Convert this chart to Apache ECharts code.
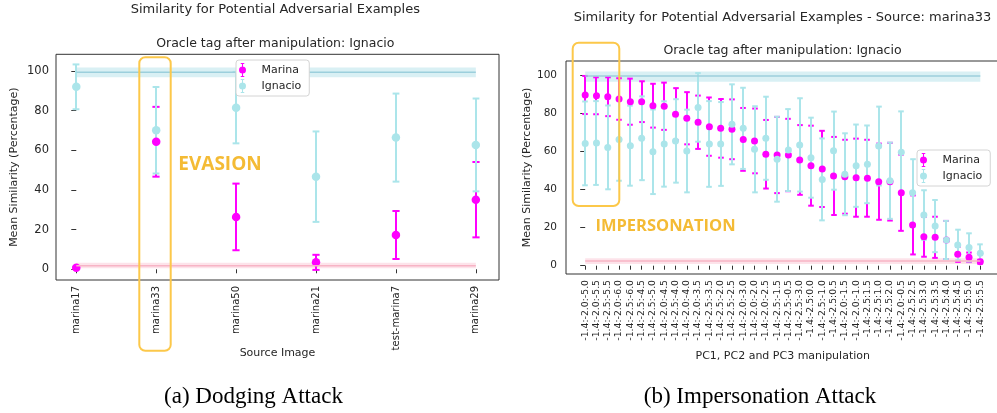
<!DOCTYPE html>
<html><head><meta charset="utf-8">
<script src="https://cdn.jsdelivr.net/npm/echarts@6/dist/echarts.min.js"></script>
<style>html,body{margin:0;padding:0;background:#fff}#chart{width:997px;height:413px}</style>
</head><body><div id="chart"></div>
<script>
// ---------- Left panel: Dodging attack ----------
const leftCategories = ['marina17', 'marina33', 'marina50', 'marina21', 'test-marina7', 'marina29'];
const leftMarinaMean = [0.8, 64.3, 26.4, 3.5, 17.3, 35.1];
const leftMarinaStd  = [0.5, 17.6, 16.8, 3.8, 12.1, 19.0];
const leftIgnacioMean = [92.0, 70.1, 81.5, 46.7, 66.4, 62.7];
const leftIgnacioStd  = [11.3, 21.8, 18.0, 22.8, 22.2, 23.4];
const leftIgnacioRef = [96.8, 99.3, 101.7];   // band low, line, band high
const leftMarinaRef  = [0.5, 1.8, 3.3];

// ---------- Right panel: Impersonation attack ----------
const rightCategories = [
  '-1.4:-2.0:-5.0', '-1.4:-2.0:-5.5', '-1.4:-2.5:-5.5', '-1.4:-2.0:-6.0', '-1.4:-2.5:-6.0', '-1.4:-2.5:-4.5',
  '-1.4:-2.5:-5.0', '-1.4:-2.0:-4.5', '-1.4:-2.5:-4.0', '-1.4:-2.0:-4.0', '-1.4:-2.0:-3.5', '-1.4:-2.5:-3.5',
  '-1.4:-2.5:-2.0', '-1.4:-2.5:-2.5', '-1.4:-2.0:-3.0', '-1.4:-2.0:-2.0', '-1.4:-2.0:-2.5', '-1.4:-2.5:-1.5',
  '-1.4:-2.5:-0.5', '-1.4:-2.5:-3.0', '-1.4:-2.5:0.0', '-1.4:-2.5:-1.0', '-1.4:-2.5:0.5', '-1.4:-2.0:-1.5',
  '-1.4:-2.0:-1.0', '-1.4:-2.5:1.5', '-1.4:-2.5:1.0', '-1.4:-2.5:2.0', '-1.4:-2.0:-0.5', '-1.4:-2.5:2.5',
  '-1.4:-2.5:3.0', '-1.4:-2.5:3.5', '-1.4:-2.5:4.0', '-1.4:-2.5:4.5', '-1.4:-2.5:5.0', '-1.4:-2.5:5.5'
];
const rightMarinaMean = [89.6, 89.2, 88.7, 87.5, 86.1, 86.1, 84.0, 83.7, 79.5, 77.4, 75.3, 73.0,
  72.1, 71.6, 66.3, 65.5, 58.5, 58.1, 58.1, 55.5, 52.5, 50.8, 47.1, 46.7,
  46.2, 45.9, 44.1, 44.1, 38.3, 21.4, 15.2, 14.9, 13.5, 6.0, 4.4, 2.1];
const rightMarinaStd = [10.0, 9.7, 10.2, 10.9, 12.1, 10.7, 11.5, 12.4, 13.7, 13.7, 14.0, 15.3,
  15.4, 15.7, 16.5, 17.0, 18.0, 20.0, 19.0, 18.3, 21.0, 20.0, 20.5, 19.4,
  20.5, 20.2, 20.0, 20.4, 20.0, 15.5, 10.5, 10.8, 10.0, 4.0, 2.5, 1.0];
const rightIgnacioMean = [64.2, 64.4, 62.1, 66.3, 63.0, 66.9, 59.8, 63.9, 65.5, 60.2, 83.1, 63.9,
  63.9, 74.2, 72.1, 61.1, 66.9, 55.9, 60.7, 63.4, 56.7, 45.3, 60.4, 48.0,
  52.5, 53.2, 62.8, 44.6, 59.5, 38.3, 26.6, 20.8, 13.5, 10.9, 9.6, 6.5];
const rightIgnacioStd = [22.0, 22.0, 22.0, 21.7, 21.0, 22.0, 22.2, 22.4, 21.9, 21.7, 18.0, 22.5,
  22.0, 21.0, 21.3, 22.6, 21.8, 22.3, 21.5, 24.5, 21.0, 21.5, 20.5, 21.5,
  21.6, 20.4, 20.7, 20.0, 21.5, 17.6, 13.0, 13.7, 10.0, 8.0, 7.4, 4.7];
const rightIgnacioRef = [96.6, 99.6, 102.0];
const rightMarinaRef  = [0.9, 2.5, 3.9];

// ---------- styles ----------
const FONT = '"DejaVu Sans", sans-serif';
const MAGENTA = '#ff00ff';
const CYAN = '#abe5ea';
const REF_CYAN_LINE = '#9ccfdc', REF_CYAN_BAND = '#d9f0f4';
const REF_PINK_LINE = '#f7b4c5', REF_PINK_BAND = '#fde3ea';
const ORANGE = '#f4bb35';
const TXT = '#262626';
const LEGEND_ICON = 'path://M4.4,0H5.6V16H4.4Z M3,0H7V1.2H3Z M3,14.8H7V16H3Z M1,8A4,4 0 1 1 9,8A4,4 0 1 1 1,8Z';

function errorBarRender(color, capHalf, lw) {
  return function (params, api) {
    const x = api.value(0), m = api.value(1), s = api.value(2);
    const p1 = api.coord([x, m + s]), p2 = api.coord([x, m - s]);
    const px = Math.round(p1[0]);
    const st = () => ({ stroke: color, lineWidth: lw, opacity: 1 });
    return { type: 'group', children: [
      { type: 'line', shape: { x1: px, y1: p1[1], x2: px, y2: p2[1] }, style: st() },
      { type: 'line', shape: { x1: px - capHalf, y1: p1[1], x2: px + capHalf, y2: p1[1] }, style: st() },
      { type: 'line', shape: { x1: px - capHalf, y1: p2[1], x2: px + capHalf, y2: p2[1] }, style: st() }
    ] };
  };
}
function bandRender(color) {
  return function (params, api) {
    const a = api.coord([api.value(0), api.value(3)]);
    const b = api.coord([api.value(1), api.value(2)]);
    return { type: 'rect', shape: { x: a[0], y: a[1], width: b[0] - a[0], height: b[1] - a[1] }, style: { fill: color } };
  };
}
function refSeries(axisIdx, lastIdx, ref, lineColor, bandColor, name) {
  return [
    { type: 'custom', name: name + ' band', xAxisIndex: axisIdx, yAxisIndex: axisIdx, silent: true,
      renderItem: bandRender(bandColor), encode: { x: [0, 1], y: [2, 3] },
      data: [[0, lastIdx, ref[0], ref[2]]] },
    { type: 'line', name: name + ' ref', xAxisIndex: axisIdx, yAxisIndex: axisIdx, silent: true,
      showSymbol: false, symbol: 'none', lineStyle: { color: lineColor, width: 1.5 },
      data: [[0, ref[1]], [lastIdx, ref[1]]] }
  ];
}
function pointSeries(axisIdx, name, color, means, stds, capHalf, lw, size) {
  return [
    { type: 'custom', name: name, xAxisIndex: axisIdx, yAxisIndex: axisIdx,
      renderItem: errorBarRender(color, capHalf, lw), encode: { x: 0, y: 1 },
      itemStyle: { color: color },
      data: means.map((m, i) => [i, m, stds[i]]) },
    { type: 'scatter', name: name, xAxisIndex: axisIdx, yAxisIndex: axisIdx,
      symbol: 'circle', symbolSize: size, itemStyle: { color: color, opacity: 1 },
      data: means.map((m, i) => [i, m]) }
  ];
}
function idx(n) { return Array.from({ length: n }, (_, i) => i); }

const yTicks = [0, 20, 40, 60, 80, 100];

function xAxisCfg(grid, cats, min, max, fontSize, name, nameGap) {
  return {
    type: 'value', gridIndex: grid, min: min, max: max,
    splitLine: { show: false }, axisLine: { show: false },
    axisTick: { show: true, length: 4, customValues: idx(cats.length), lineStyle: { color: '#333', width: 1 } },
    axisLabel: { customValues: idx(cats.length), formatter: v => cats[Math.round(v)], rotate: 90,
      fontSize: fontSize, color: TXT, fontFamily: FONT, margin: 6, hideOverlap: false },
    name: name, nameLocation: 'middle', nameGap: nameGap, nameMoveOverlap: false,
    nameTextStyle: { fontSize: 11, color: TXT, fontFamily: FONT }
  };
}
function yAxisCfg(grid, min, max, fontSize, margin, nameGap) {
  return {
    type: 'value', gridIndex: grid, min: min, max: max,
    splitLine: { show: false }, axisLine: { show: false },
    axisTick: { show: true, length: 5, customValues: yTicks, lineStyle: { color: '#333', width: 1 } },
    axisLabel: { customValues: yTicks, fontSize: fontSize, color: TXT, fontFamily: FONT, margin: margin },
    name: 'Mean Similarity (Percentage)', nameLocation: 'middle', nameGap: nameGap, nameRotate: 90,
    nameMoveOverlap: false,
    nameTextStyle: { fontSize: 11, color: TXT, fontFamily: FONT }
  };
}
function legendCfg(left, top) {
  return {
    left: left, top: top, orient: 'vertical', selectedMode: false,
    backgroundColor: '#fff', borderColor: '#d4d4d4', borderWidth: 1, borderRadius: 3,
    padding: [3, 8, 3, 3], itemGap: 2, itemWidth: 28, itemHeight: 14, symbolKeepAspect: true,
    textStyle: { fontSize: 11, color: TXT, fontFamily: FONT },
    data: [
      { name: 'Marina', icon: LEGEND_ICON, itemStyle: { color: MAGENTA } },
      { name: 'Ignacio', icon: LEGEND_ICON, itemStyle: { color: CYAN } }
    ]
  };
}
function txt(text, x, y, font, fill, align) {
  return { type: 'text', x: x, y: y, z: 50, silent: true,
    style: { text: text, font: font, fill: fill, align: align || 'center', verticalAlign: 'middle',
      textAlign: align || 'center', textVerticalAlign: 'middle' } };
}

const option = {
  backgroundColor: '#fff',
  animation: false,
  grid: [
    { left: 56, top: 54.3, width: 443, height: 225.7, show: true, borderColor: '#333', borderWidth: 1,
      backgroundColor: 'transparent', containLabel: false, outerBoundsMode: 'none' },
    { left: 566, top: 61, width: 433.5, height: 213, show: true, borderColor: '#333', borderWidth: 1,
      backgroundColor: 'transparent', containLabel: false, outerBoundsMode: 'none' }
  ],
  xAxis: [
    xAxisCfg(0, leftCategories, -0.254, 5.29, 10, 'Source Image', 68),
    xAxisCfg(1, rightCategories, -1.7, 36.7, 9.3, 'PC1, PC2 and PC3 manipulation', 77)
  ],
  yAxis: [
    yAxisCfg(0, -5.4, 108.4, 11.5, 7, 36),
    yAxisCfg(1, -4.36, 107.45, 10.5, 9, 33)
  ],
  legend: [legendCfg(236, 60), legendCfg(917, 150)],
  series: [].concat(
    refSeries(0, leftCategories.length - 1, leftIgnacioRef, REF_CYAN_LINE, REF_CYAN_BAND, 'IgnacioL'),
    refSeries(0, leftCategories.length - 1, leftMarinaRef, REF_PINK_LINE, REF_PINK_BAND, 'MarinaL'),
    pointSeries(0, 'Marina', MAGENTA, leftMarinaMean, leftMarinaStd, 3.6, 2, 8.5),
    pointSeries(0, 'Ignacio', CYAN, leftIgnacioMean, leftIgnacioStd, 3.4, 2, 8.5),
    refSeries(1, rightCategories.length - 1, rightIgnacioRef, REF_CYAN_LINE, REF_CYAN_BAND, 'IgnacioR'),
    refSeries(1, rightCategories.length - 1, rightMarinaRef, REF_PINK_LINE, REF_PINK_BAND, 'MarinaR'),
    pointSeries(1, 'Marina', MAGENTA, rightMarinaMean, rightMarinaStd, 2.8, 2, 7),
    pointSeries(1, 'Ignacio', CYAN, rightIgnacioMean, rightIgnacioStd, 2.8, 2, 7)
  ),
  graphic: [
    txt('Similarity for Potential Adversarial Examples', 275.3, 10, '13px ' + FONT, TXT),
    txt('Oracle tag after manipulation: Ignacio', 275.3, 43.3, '12.5px ' + FONT, TXT),
    txt('Similarity for Potential Adversarial Examples - Source: marina33', 782.5, 17.3, '13px ' + FONT, TXT),
    txt('Oracle tag after manipulation: Ignacio', 782.5, 50.7, '12.5px ' + FONT, TXT),
    txt('EVASION', 220, 164.5, 'bold 19px "Open Sans", sans-serif', ORANGE),
    txt('IMPERSONATION', 665.5, 226.5, 'bold 16.5px "Open Sans", sans-serif', ORANGE),
    txt('(a) Dodging Attack', 253.5, 396.5, '23px "Liberation Serif", "DejaVu Serif", serif', '#000'),
    txt('(b) Impersonation Attack', 760, 396.5, '23px "Liberation Serif", "DejaVu Serif", serif', '#000'),
    { type: 'rect', z: 60, silent: true, shape: { x: 139.3, y: 57.3, width: 31.4, height: 293.4, r: 6 },
      style: { fill: 'none', stroke: '#fcc84a', lineWidth: 2 } },
    { type: 'rect', z: 60, silent: true, shape: { x: 572.7, y: 42.7, width: 46.6, height: 163.3, r: 6 },
      style: { fill: 'none', stroke: '#fcc84a', lineWidth: 2 } }
  ]
};

const chart = echarts.init(document.getElementById('chart'), null, { renderer: 'canvas' });
chart.setOption(option);
</script>
</body></html>
